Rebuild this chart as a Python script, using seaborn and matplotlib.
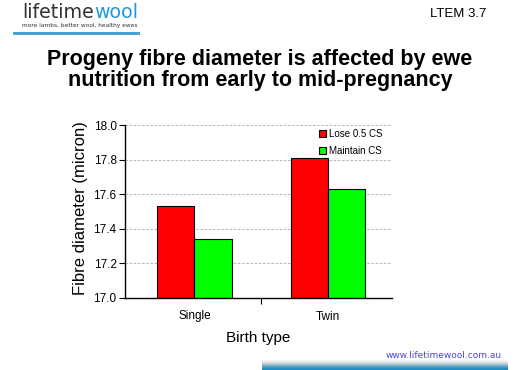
import matplotlib
matplotlib.use("Agg")
import matplotlib.pyplot as plt
import seaborn as sns
import pandas as pd
import numpy as np

birth_types = ["Single", "Twin"]
treatments = ["Lose 0.5 CS", "Maintain CS"]
lose_values = [17.53, 17.81]
maintain_values = [17.34, 17.63]
y_ticks = [17.0, 17.2, 17.4, 17.6, 17.8, 18.0]

df = pd.DataFrame({
    "Birth type": birth_types * 2,
    "Treatment": [treatments[0]] * 2 + [treatments[1]] * 2,
    "value": lose_values + maintain_values,
})

sns.set_theme(style="white")
plt.rcParams['font.family'] = ['Liberation Sans', 'DejaVu Sans']
plt.rcParams['text.color'] = 'black'
plt.rcParams['axes.labelcolor'] = 'black'
plt.rcParams['xtick.color'] = 'black'
plt.rcParams['ytick.color'] = 'black'

W, H = 520, 370
fig = plt.figure(figsize=(5.2, 3.7), dpi=100)
ax = fig.add_axes([125 / W, 1 - 298 / H, 267 / W, 173 / H])

sns.barplot(data=df, x="Birth type", y="value", hue="Treatment",
            palette=["#ff0000", "#00ff00"], width=0.56, edgecolor="black",
            linewidth=0.8, ax=ax, saturation=1)

ax.set_ylim(17.0, 18.0)
ax.set_xlim(-0.52, 1.48)
ax.set_yticks(y_ticks)
ax.set_yticklabels([f"{t:.1f}" for t in y_ticks], fontsize=8.5)
ax.yaxis.grid(True, linestyle=(0, (3, 2)), color="#aaaaaa", linewidth=0.6)
ax.set_axisbelow(True)
for s in ["top", "right"]:
    ax.spines[s].set_visible(False)
for s in ["left", "bottom"]:
    ax.spines[s].set_color("black")
    ax.spines[s].set_linewidth(1.0)
ax.tick_params(axis="y", which="major", left=True, length=4, width=0.8, color="black", pad=2)
ax.tick_params(axis="x", which="major", bottom=False, labelsize=8.5, pad=3)
ax.set_xticks([0.5], minor=True)
ax.tick_params(axis="x", which="minor", bottom=True, length=4, width=0.8, color="black")
ax.set_xlabel("Birth type", fontsize=11, labelpad=6)
ax.set_ylabel("")
fig.text(80 / W, 1 - 208 / H, "Fibre diameter (micron)", rotation=90, ha="center",
         va="center", fontsize=12)

leg = ax.legend(loc="upper left", bbox_to_anchor=(188 / 267, 1.012), fontsize=7, frameon=False,
                handlelength=0.75, handleheight=0.75, handletextpad=0.3, labelspacing=0.75,
                borderaxespad=0.2)
for t in leg.get_texts():
    t.set_color("black")

fig.text(0.5, 1 - 70 / H, "Progeny fibre diameter is affected by ewe\nnutrition from early to mid-pregnancy",
         ha="center", va="center", fontsize=15.5, fontweight="bold", linespacing=1.0)
fig.text(458 / W, 1 - 14 / H, "LTEM 3.7", ha="center", va="center", fontsize=9.5)

# logo
fig.canvas.draw()
r = fig.canvas.get_renderer()
t1 = fig.text(22 / W, 1 - 18 / H, "lifetime", ha="left", va="baseline", fontsize=13.7,
              color="#333333", family="DejaVu Sans")
bb = t1.get_window_extent(renderer=r)
fig.text(bb.x1 / W, 1 - 18 / H, "wool", ha="left", va="baseline", fontsize=13.7,
         color="#1e9bd7", family="DejaVu Sans")
tg = fig.text(22 / W, 1 - 26 / H, "more lambs, better wool, healthy ewes", ha="left",
              va="center", fontsize=4.5, color="#333333", family="DejaVu Sans")
w = tg.get_window_extent(renderer=r).width
tg.set_fontsize(4.5 * 116 / w)
fig.add_artist(plt.Rectangle((13 / W, 1 - 35 / H), 127 / W, 3 / H, transform=fig.transFigure,
                             color="#4aa3d0", lw=0))

fig.text(502 / W, 1 - 355 / H, "www.lifetimewool.com.au", ha="right", va="center", fontsize=6.5,
         color="#4848e0", family="DejaVu Sans")
bar_cols = ["#1f88bd", "#2a8fc0", "#3f98c4", "#5aa3c6", "#7fb3c8", "#a2c0cc", "#c2cfd4",
            "#d8dfe2", "#e9eced", "#f3f4f5"]
for i, c in enumerate(bar_cols):
    fig.add_artist(plt.Rectangle((262 / W, i / H), 246 / W, 1 / H, transform=fig.transFigure,
                                 color=c, lw=0))

fig.savefig("out.png", dpi=100)
